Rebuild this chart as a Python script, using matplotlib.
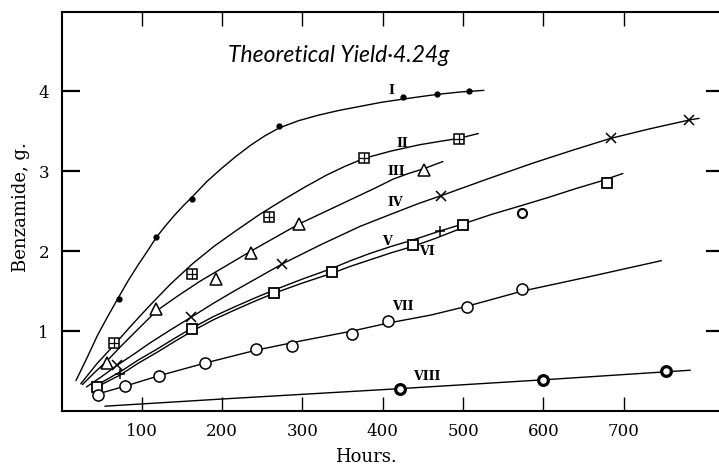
import matplotlib
matplotlib.use("Agg")
import matplotlib.pyplot as plt
from matplotlib import font_manager

# ---------------- data ----------------
# measured points
I_x = [71, 118, 163, 271, 425, 468, 507]
I_y = [1.40, 2.17, 2.65, 3.56, 3.93, 3.96, 4.00]
II_x = [65, 163, 258, 377, 495]
II_y = [0.85, 1.71, 2.42, 3.17, 3.40]
III_x = [57, 118, 193, 236, 296, 451]
III_y = [0.60, 1.27, 1.65, 1.97, 2.34, 3.01]
IV_x = [69, 161, 275, 472, 684, 782]
IV_y = [0.575, 1.17, 1.84, 2.69, 3.41, 3.64]
V_plus_x = [73, 471]
V_plus_y = [0.46, 2.25]
V_sq_x = [500, 679]
V_sq_y = [2.33, 2.85]
V_circ_x = [573]
V_circ_y = [2.47]
VI_x = [44, 163, 264, 337, 438]
VI_y = [0.30, 1.02, 1.48, 1.74, 2.07]
VII_x = [46, 79, 121, 179, 242, 287, 362, 407, 505, 574]
VII_y = [0.20, 0.31, 0.44, 0.60, 0.77, 0.81, 0.96, 1.12, 1.30, 1.53]
VIII_x = [422, 600, 753]
VIII_y = [0.275, 0.39, 0.50]

# fitted curves
cI_x = [18, 32, 45, 58, 71, 83, 95, 107, 118, 129, 140, 152, 163, 181, 200, 218,
        235, 253, 271, 295, 320, 346, 372, 398, 425, 446, 468, 497, 526]
cI_y = [0.38, 0.67, 0.95, 1.19, 1.42, 1.63, 1.82, 2.00, 2.17, 2.31, 2.44, 2.57, 2.68,
        2.87, 3.04, 3.19, 3.32, 3.44, 3.54, 3.63, 3.70, 3.76, 3.81, 3.86, 3.90, 3.93,
        3.96, 3.99, 4.01]
cII_x = [24, 44, 65, 87, 110, 136, 163, 190, 218, 247, 276, 303, 330, 353, 377,
         410, 446, 470, 495, 519]
cII_y = [0.34, 0.59, 0.82, 1.07, 1.32, 1.59, 1.84, 2.06, 2.26, 2.46, 2.64, 2.80,
         2.95, 3.06, 3.16, 3.25, 3.33, 3.37, 3.41, 3.47]
cIII_x = [26, 41, 57, 73, 90, 104, 118, 145, 172, 204, 236, 266, 296, 334, 372,
          393, 413, 432, 451, 475]
cIII_y = [0.33, 0.48, 0.63, 0.80, 0.97, 1.11, 1.25, 1.44, 1.62, 1.81, 2.00, 2.17,
          2.34, 2.52, 2.70, 2.80, 2.90, 2.97, 3.03, 3.12]
cIV_x = [31, 50, 69, 90, 110, 135, 161, 188, 215, 245, 275, 323, 372, 410, 446,
         472, 530, 587, 636, 684, 733, 782, 794]
cIV_y = [0.30, 0.43, 0.57, 0.71, 0.85, 1.01, 1.17, 1.34, 1.50, 1.67, 1.84, 2.08,
         2.31, 2.46, 2.60, 2.69, 2.90, 3.10, 3.26, 3.41, 3.53, 3.64, 3.66]
cV_x = [40, 73, 96, 120, 141, 163, 189, 215, 240, 264, 300, 336, 360, 384, 411,
        438, 471, 500, 536, 573, 606, 640, 670, 699]
cV_y = [0.30, 0.49, 0.64, 0.78, 0.91, 1.04, 1.18, 1.30, 1.41, 1.51, 1.65, 1.78,
        1.88, 1.97, 2.06, 2.14, 2.25, 2.34, 2.46, 2.57, 2.67, 2.78, 2.87, 2.97]
cVI_x = [40, 73, 96, 120, 141, 163, 189, 215, 240, 264, 300, 336, 360, 384, 411,
         438, 466, 494]
cVI_y = [0.28, 0.45, 0.60, 0.74, 0.87, 1.00, 1.14, 1.26, 1.37, 1.47, 1.60, 1.72,
         1.81, 1.89, 1.98, 2.06, 2.16, 2.27]
cVII_x = [44, 79, 121, 179, 242, 300, 362, 407, 460, 505, 574, 662, 747]
cVII_y = [0.21, 0.31, 0.44, 0.60, 0.76, 0.88, 1.00, 1.10, 1.20, 1.31, 1.50, 1.69, 1.88]
cVIII_x = [54, 200, 422, 600, 783]
cVIII_y = [0.06, 0.15, 0.28, 0.39, 0.51]

labels = ["I", "II", "III", "IV", "V", "VI", "VII", "VIII"]
label_x = [411, 424, 417, 416, 405, 455, 425, 455]
label_y = [4.01, 3.35, 3.00, 2.61, 2.12, 1.99, 1.31, 0.43]

x_ticks = [100, 200, 300, 400, 500, 600, 700]
y_ticks = [1, 2, 3, 4]
title_text = "Theoretical Yield\u00b74.24g"
x_label = "Hours."
y_label = "Benzamide, g."

# ---------------- drawing ----------------
serif = "DejaVu Serif"
names = {f.name for f in font_manager.fontManager.ttflist}
title_font = "Lato" if "Lato" in names else "Liberation Sans"

fig = plt.figure(figsize=(7.19, 4.66), dpi=100)
W, H = 719, 466
ax = fig.add_axes([61.5 / W, 55 / H, (724 - 61.5) / W, 399 / H])
ax.set_xlim(0, 825)
ax.set_ylim(0, 4.99)

lw = 1.0
k = "black"
for cx, cy in [(cI_x, cI_y), (cII_x, cII_y), (cIII_x, cIII_y), (cIV_x, cIV_y),
               (cV_x, cV_y), (cVI_x, cVI_y), (cVII_x, cVII_y), (cVIII_x, cVIII_y)]:
    ax.plot(cx, cy, color=k, lw=lw, solid_capstyle="round", solid_joinstyle="round",
            zorder=2)

ax.plot(I_x, I_y, "o", color=k, ms=3.5, zorder=3)
ax.plot(II_x, II_y, "s", mfc="white", mec=k, ms=7, mew=1.1, zorder=3)
ax.plot(II_x, II_y, "+", color=k, ms=7, mew=0.9, zorder=4)
ax.plot(III_x, III_y, "^", mfc="white", mec=k, ms=8, mew=1.1, zorder=3)
ax.plot(IV_x, IV_y, "x", color=k, ms=7, mew=1.1, zorder=3)
ax.plot(V_plus_x, V_plus_y, "+", color=k, ms=7, mew=1.1, zorder=3)
ax.plot(V_sq_x, V_sq_y, "s", mfc="white", mec=k, ms=6.5, mew=1.3, zorder=3)
ax.plot(V_circ_x, V_circ_y, "o", mfc="white", mec=k, ms=6.5, mew=1.5, zorder=3)
ax.plot(VI_x, VI_y, "s", mfc="white", mec=k, ms=6.5, mew=1.3, zorder=3)
ax.plot(VII_x, VII_y, "o", mfc="white", mec=k, ms=8, mew=1.1, zorder=3)
ax.plot(VIII_x, VIII_y, "o", mfc="white", mec=k, ms=7, mew=2.3, zorder=3)

for t, x, y in zip(labels, label_x, label_y):
    ax.text(x, y, t, fontsize=9, family=serif, fontweight="bold",
            ha="center", va="center", zorder=5)

ax.text(207, 4.36, title_text, fontsize=16.5, family=title_font, style="italic",
        fontweight="normal", color="black", ha="left", va="baseline")

ax.set_xticks(x_ticks)
ax.set_xticklabels([str(v) for v in x_ticks])
ax.set_yticks(y_ticks)
ax.set_yticklabels([str(v) for v in y_ticks])
ax.tick_params(axis="x", which="both", direction="in", length=10, width=1.0,
               top=True, bottom=True, labelsize=12, pad=9)
ax.tick_params(axis="y", which="both", direction="in", length=13, width=1.6,
               left=True, right=True, labelsize=12, pad=9)
for lab in ax.get_xticklabels() + ax.get_yticklabels():
    lab.set_family(serif)
for s in ax.spines.values():
    s.set_linewidth(1.5)

fig.text(21 / W, 1 - 207 / H, y_label, rotation=90, fontsize=13, family=serif,
         ha="center", va="center")
fig.text(366 / W, 1 - 457 / H, x_label, fontsize=13, family=serif,
         ha="center", va="center")

fig.savefig("out.png", dpi=100)
